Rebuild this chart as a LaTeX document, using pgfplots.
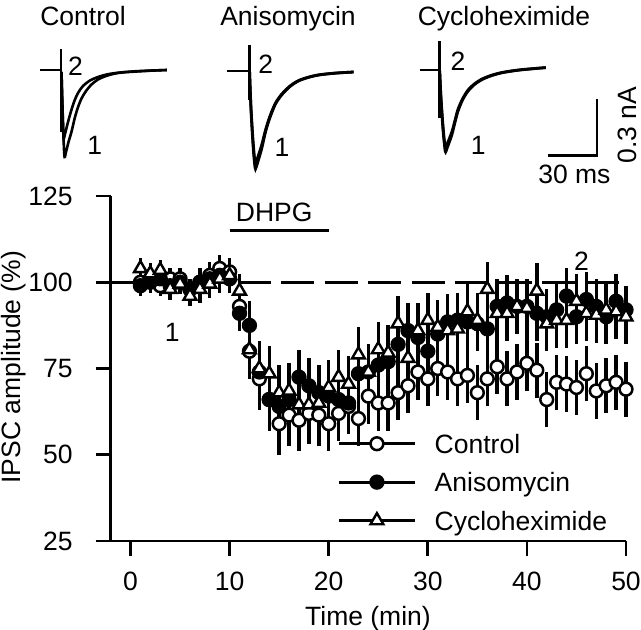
\documentclass[border=0pt]{standalone}
\usepackage{fontspec}
\setmainfont{Liberation Sans}
\usepackage{pgfplots}
\pgfplotsset{compat=1.18}
\usepackage{pgfplotstable}

\pgfplotstableread{
x y e
1 100 3
2 101 3
3 99 3
4 101 3
5 101 3
6 98 3
7 100 4
8 102 4
9 104 4
10 103 4
11 93 6
12 80 8
13 72 9
14 66 9
15 59 9
16 61.5 9
17 60 9
18 62 9
19 61.5 9
20 59 8
21 62 8
22 64 8
23 60.5 8
24 67 8
25 65 8
26 65 8
27 68 8
28 70 8
29 74 8
30 72 8
31 75 8
32 74 8
33 72 8
34 73 8
35 68 8
36 72 8
37 75.5 8
38 72 8
39 74 8
40 76.5 8
41 74.5 8
42 66 8
43 71 8
44 70.5 8
45 69.5 8
46 73.5 8
47 68.5 8
48 70 8
49 71 8
50 69 8
}\ctrl

\pgfplotstableread{
x y e
1 99 3
2 100 3
3 101 3
4 99 3
5 100 3
6 98 3
7 100 3
8 101 4
9 102 4
10 101 4
11 91 5
12 87.5 7
13 74 8
14 66 8
15 64 8
16 66 8
17 72.5 8
18 70 8
19 68 8
20 67 8
21 66 8
22 65 8
23 73.5 8
24 74 8
25 76 8
26 77 8
27 82 8
28 86 8
29 84 8
30 80 8
31 85 8
32 88.5 8
33 89 8
34 88.5 8
35 88 8
36 86.5 8
37 93 8
38 94 8
39 93 8
40 93 8
41 91 8
42 90 8
43 92 8
44 96 8
45 90 8
46 95 8
47 93 8
48 90 8
49 94.5 8
50 92 7
}\aniso

\pgfplotstableread{
x y e
1 104 3
2 102.5 3
3 103.5 3
4 98 3
5 99.5 3
6 96 3
7 98 4
8 99.5 4
9 101 4
10 102 4
11 97.5 5
12 80.5 7
13 75 8
14 73.5 8
15 68 8
16 68.5 8
17 64.5 8
18 64.5 8
19 65 8
20 69.5 8
21 72.5 8
22 70.5 8
23 79 8
24 74 8
25 80.5 8
26 79.5 8
27 88 8
28 78 8
29 86 8
30 89 8
31 87 8
32 86 8
33 86.5 8
34 91.5 8
35 89 8
36 98 8
37 91 8
38 91 8
39 93 8
40 92.5 8
41 97.5 8
42 88 8
43 89 8
44 89 8
45 94.5 8
46 91 8
47 90.5 8
48 92 8
49 91.5 8
50 90 8
}\cyclo

\newcommand{\fs}{\fontsize{13.25}{15}\selectfont}

\begin{document}
\fs
\begin{tikzpicture}[font=\fs]
\useasboundingbox (0,0) rectangle (320.5pt,314.5pt);

% overlay axis in pixel units for the current traces and scale bar
\begin{axis}[at={(160.25pt,157.25pt)}, anchor=center, scale only axis,
  width=320.5pt, height=314.5pt, xmin=0, xmax=641, ymin=0, ymax=629,
  y dir=reverse, hide axis, clip=false]
% Control
\addplot[line width=1.4pt, sharp plot] coordinates {(39.7,70) (61.3,70)};
\addplot[line width=1.1pt, sharp plot] coordinates {(61.3,49) (61.3,131.8)};
\addplot[line width=1.3pt, smooth, tension=0.5] coordinates {(61.5,72) (62.5,110) (63.8,145) (64.6,157) (66,152) (68.5,142) (71.5,131.8) (74.5,119) (77.7,108) (81.5,98.5) (85.9,91.2) (91.5,84.5) (98.1,79.4) (106,76) (114.5,73.6) (124,72.3) (134.9,71.6) (150,70.7) (166.8,70)};
\addplot[line width=1.3pt, smooth, tension=0.5] coordinates {(61.5,72) (62.3,100) (63.2,130) (63.6,139) (65,134) (67.5,124) (70.5,113) (74,102) (78,93) (83,86) (90,80.5) (98,77) (108,74.2) (120,72.5) (135,71.3) (150,70.6) (166.8,70)};
% Anisomycin
\addplot[line width=1.4pt, sharp plot] coordinates {(227.3,71) (249.4,71)};
\addplot[line width=1.1pt, sharp plot] coordinates {(249.4,45) (249.4,100)};
\addplot[line width=1.4pt, smooth, tension=0.5] coordinates {(249.6,72) (251,110) (253,145) (254.5,163) (255.5,169) (257.5,163) (261.7,148.6) (265.5,132) (269.8,118) (275.5,104) (282,94.6) (290,86.5) (298.4,81) (308,77.5) (318.9,75) (335,73.2) (353.6,72)};
\addplot[line width=1.4pt, smooth, tension=0.5] coordinates {(249.6,72) (251,108) (253,140) (254.5,158) (255.3,163) (257.5,158) (261.7,145) (265.5,130) (269.8,116.5) (275.5,103) (282,93.8) (290,86) (298.4,80.6) (308,77.3) (318.9,74.8) (335,73.1) (353.6,72)};
% Cycloheximide
\addplot[line width=1.4pt, sharp plot] coordinates {(419.9,70) (439.5,70)};
\addplot[line width=1.1pt, sharp plot] coordinates {(439.5,41) (439.5,118)};
\addplot[line width=1.4pt, smooth, tension=0.5] coordinates {(439.7,71) (441,100) (443,130) (444.8,148) (445.6,152) (447.5,147) (451.8,135) (454.8,123) (457.9,111.5) (462.5,100) (468,91.2) (474.5,84.5) (482.4,79.4) (492,75.5) (502.9,72.6) (520,70) (545.8,67.6)};
\addplot[line width=1.4pt, smooth, tension=0.5] coordinates {(439.7,71) (441,98) (443,126) (444.6,143) (445.3,147) (447.5,143) (451.8,132) (454.8,121) (457.9,109.5) (462.5,99) (468,90) (474.5,83.8) (482.4,78.8) (492,75.1) (502.9,72.3) (520,69.8) (545.8,67.6)};
% scale bar
\addplot[line width=1.4pt, sharp plot] coordinates {(547.8,155.4) (596.9,155.4) (596.9,99)};

\node[anchor=base] at (axis cs:83,25.3) {Control};
\node[anchor=base] at (axis cs:288,25.3) {Anisomycin};
\node[anchor=base] at (axis cs:504,25.3) {Cycloheximide};
\node[anchor=base] at (axis cs:75.6,75.2) {2};
\node[anchor=base] at (axis cs:94.8,154.5) {1};
\node[anchor=base] at (axis cs:265.7,73.5) {2};
\node[anchor=base] at (axis cs:282,156.3) {1};
\node[anchor=base] at (axis cs:457.9,70.1) {2};
\node[anchor=base] at (axis cs:478.3,154.6) {1};
\node[anchor=base] at (axis cs:574.4,183.3) {30 ms};
\node[rotate=90, anchor=center] at (axis cs:627.6,125) {0.3 nA};
\end{axis}

% main axis
\begin{axis}[at={(55.35pt,44pt)}, anchor=south west, scale only axis,
  width=257.65pt, height=172.5pt,
  xmin=-2, xmax=50, ymin=25, ymax=125,
  axis lines=left, axis line style={line width=1.35pt, -},
  xtick={0,10,...,50}, ytick={25,50,...,125},
  tick align=outside, major tick length=7.5pt,
  tick style={line width=1.35pt, black},
  /pgf/number format/assume math mode=true,
  xticklabel style={anchor=base, inner sep=0pt, yshift=-17.25pt, font=\fs},
  yticklabel style={anchor=east, inner sep=0pt, xshift=-11.35pt, font=\fs},
  xlabel={Time (min)}, ylabel={IPSC amplitude (\%)},
  xlabel style={at={(axis description cs:0.4993,-0.2245)}, anchor=center, font=\fs},
  ylabel style={at={(axis description cs:-0.1877,0.504)}, anchor=center, font=\fs},
  clip=false,
  legend style={at={(axis cs:20.9,55.98)}, anchor=north west, draw=none, fill=none,
    inner sep=0pt, outer sep=0pt, row sep=9.6pt, column sep=9.25pt,
    nodes={inner sep=0pt, text height=9.6pt, text depth=0pt, font=\fs}},
  legend cell align=left,
  mylegend/.style={legend image code/.code={
     \draw[line width=1.6pt, black, solid] (0pt,0pt) -- (37.7pt,0pt);
     \draw plot coordinates {(18.85pt,0pt)};}},
]
\addplot[line width=1.35pt, dash pattern=on 16.5pt off 5.25pt, dash phase=1.85pt, forget plot] coordinates {(-2,100) (50,100)};
\addplot[line width=1.5pt, forget plot] coordinates {(10,115) (20,115)};

\addplot[only marks, mark=*, mark size=3.2pt, mark options={fill=white, draw=black, line width=1.25pt, solid},
  error bars/.cd, y dir=both, y explicit, error mark=none, error bar style={line width=1.7pt, black},
  /pgfplots/.cd, mylegend]
  table[x=x, y=y, y error=e] {\ctrl};
\addlegendentry{Control}
\addplot[only marks, mark=*, mark size=3.2pt, mark options={fill=black, draw=black, line width=1.25pt, solid},
  error bars/.cd, y dir=both, y explicit, error mark=none, error bar style={line width=1.7pt, black},
  /pgfplots/.cd, mylegend]
  table[x=x, y=y, y error=e] {\aniso};
\addlegendentry{Anisomycin}
\addplot[only marks, mark=triangle*, mark size=3.7pt, mark options={fill=white, draw=black, line width=1.2pt, solid},
  error bars/.cd, y dir=both, y explicit, error mark=none, error bar style={line width=1.7pt, black},
  /pgfplots/.cd, mylegend]
  table[x=x, y=y, y error=e] {\cyclo};
\addlegendentry{Cycloheximide}

\node[anchor=center] at (axis cs:14.5,120.4) {DHPG};
\node[anchor=center] at (axis cs:4.2,85.5) {1};
\node[anchor=center] at (axis cs:45.5,106) {2};
\end{axis}
\end{tikzpicture}
\end{document}
